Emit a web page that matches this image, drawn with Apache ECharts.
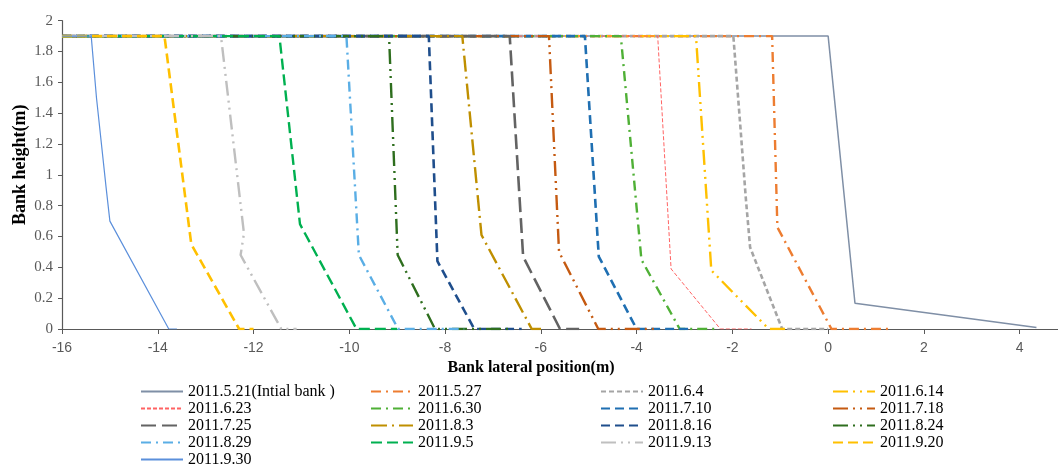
<!DOCTYPE html>
<html>
<head>
<meta charset="utf-8">
<script src="https://cdn.jsdelivr.net/npm/echarts@6/dist/echarts.min.js"></script>
<style>html,body{margin:0;padding:0;background:#fff;}#c{width:1058px;height:467px;}</style>
</head>
<body>
<div id="c"></div>
<script>
// ---- data ----
var seriesNames = ['2011.5.21(Intial bank )','2011.5.27','2011.6.4','2011.6.14','2011.6.23','2011.6.30','2011.7.10','2011.7.18','2011.7.25','2011.8.3','2011.8.16','2011.8.24','2011.8.29','2011.9.5','2011.9.13','2011.9.20','2011.9.30'];
var xTicks = [-16,-14,-12,-10,-8,-6,-4,-2,0,2,4];
var yTicks = [0,0.2,0.4,0.6,0.8,1,1.2,1.4,1.6,1.8,2];
var d0521 = [[-16,1.9],[0,1.9],[0.56,0.167],[4.35,0.01]];
var d0527 = [[-16,1.9],[-1.17,1.9],[-1.06,0.66],[0.07,0],[1.35,0]];
var d0604 = [[-16,1.9],[-1.98,1.9],[-1.83,1.3],[-1.72,0.85],[-1.63,0.53],[-0.96,0],[0,0]];
var d0614 = [[-16,1.9],[-2.76,1.9],[-2.44,0.38],[-1.24,0],[-0.9,0]];
var d0623 = [[-16,1.9],[-3.56,1.9],[-3.28,0.39],[-2.25,0],[-1.6,0]];
var d0630 = [[-16,1.9],[-4.33,1.9],[-3.9,0.45],[-3.1,0],[-2.3,0]];
var d0710 = [[-16,1.9],[-5.08,1.9],[-4.79,0.47],[-4.0,0],[-2.9,0]];
var d0718 = [[-16,1.9],[-5.83,1.9],[-5.62,0.5],[-4.8,0],[-3.6,0]];
var d0725 = [[-16,1.9],[-6.65,1.9],[-6.37,0.47],[-5.6,0],[-5.2,0]];
var d0803 = [[-16,1.9],[-7.64,1.9],[-7.24,0.61],[-6.19,0],[-5.9,0]];
var d0816 = [[-16,1.9],[-8.34,1.9],[-8.16,0.44],[-7.39,0],[-6.4,0]];
var d0824 = [[-16,1.9],[-9.17,1.9],[-8.99,0.48],[-8.21,0],[-6.6,0]];
var d0829 = [[-16,1.9],[-10.06,1.9],[-9.8,0.48],[-8.98,0],[-7.6,0]];
var d0905 = [[-16,1.9],[-11.46,1.9],[-11.03,0.68],[-9.85,0],[-9.0,0]];
var d0913 = [[-16,1.9],[-12.68,1.9],[-12.2,0.62],[-12.27,0.48],[-11.42,0],[-11.1,0]];
var d0920 = [[-16,1.9],[-13.86,1.9],[-13.3,0.55],[-12.3,0],[-12.0,0]];
var d0930 = [[-16,1.9],[-15.39,1.9],[-15.28,1.5],[-15.08,0.92],[-15.0,0.7],[-13.77,0],[-13.6,0]];
var seriesData = [d0521,d0527,d0604,d0614,d0623,d0630,d0710,d0718,d0725,d0803,d0816,d0824,d0829,d0905,d0913,d0920,d0930];

// ---- styles ----
var styles = [
  {color:'#7F8FA6', width:1.5, type:'solid'},
  {color:'#ED7D31', width:2.4, type:[10,5,2,5]},
  {color:'#A5A5A5', width:2.6, type:[5,3]},
  {color:'#FFC000', width:2.4, type:[15,5,2,5,2,5]},
  {color:'#FF6363', width:1, type:[4,2]},
  {color:'#4FB036', width:2.4, type:[10,5,2,5]},
  {color:'#1F6FB2', width:2.6, type:[9,5]},
  {color:'#C55A11', width:2.4, type:[15,5,2,5,2,5]},
  {color:'#636363', width:2.6, type:[15,6]},
  {color:'#BF8F00', width:2.4, type:[16,5,2,5]},
  {color:'#1F4E8C', width:2.6, type:[9,5]},
  {color:'#2E6E1E', width:2.4, type:[15,5,2,5,2,5]},
  {color:'#5AAEE5', width:2.4, type:[10,5,2,5]},
  {color:'#00B050', width:2.4, type:[11,5]},
  {color:'#BFBFBF', width:2.4, type:[15,5,2,5,2,5]},
  {color:'#FFC000', width:2.6, type:[10,5]},
  {color:'#5B8FDB', width:1.2, type:'solid'}
];

var series = seriesNames.map(function(n,i){
  return {
    name:n, type:'line', data:seriesData[i], symbol:'none', showSymbol:false,
    lineStyle:{color:styles[i].color, width:styles[i].width, type:styles[i].type},
    itemStyle:{color:styles[i].color},
    emphasis:{disabled:true}, animation:false
  };
});

var cols = [[0,4,8,12,16],[1,5,9,13],[2,6,10,14],[3,7,11,15]];
var colLeft = [140,370,600,832];
var legends = cols.map(function(c,k){
  return {
    orient:'vertical', left:colLeft[k], top:383, height:100, itemWidth:42, itemHeight:14, itemGap:0,
    padding:0, selectedMode:false,
    itemStyle:{opacity:0},
    data:c.map(function(i){return seriesNames[i];}),
    textStyle:{fontFamily:'Liberation Serif', fontSize:16, color:'#000', lineHeight:17, padding:[0,0,0,0]}
  };
});

var chart = echarts.init(document.getElementById('c'), null, {renderer:'canvas'});
chart.setOption({
  animation:false,
  backgroundColor:'#fff',
  grid:{left:62, right:0, top:20.7, bottom:138, containLabel:false, outerBoundsMode:'none'},
  legend:legends,
  xAxis:{
    type:'value', min:xTicks[0], max:4.8, interval:2,
    name:'Bank lateral position(m)', nameLocation:'middle', nameGap:31, nameMoveOverlap:false,
    nameTextStyle:{fontFamily:'Liberation Serif', fontWeight:'bold', fontSize:16, color:'#000', padding:[0,58,0,0]},
    axisLine:{show:true, onZero:false, lineStyle:{color:'#595959', width:1.2}},
    axisTick:{show:true, inside:false, length:5, lineStyle:{color:'#595959'}},
    splitLine:{show:false},
    axisLabel:{fontFamily:'Liberation Sans', fontSize:14, color:'#595959', margin:12, showMaxLabel:false}
  },
  yAxis:{
    type:'value', min:yTicks[0], max:yTicks[yTicks.length-1], interval:0.2,
    name:'Bank height(m)', nameLocation:'middle', nameGap:33, nameMoveOverlap:false,
    nameTextStyle:{fontFamily:'Liberation Serif', fontWeight:'bold', fontSize:18, color:'#000', padding:[0,0,0,20]},
    axisLine:{show:true, onZero:false, lineStyle:{color:'#595959', width:1.2}},
    axisTick:{show:true, length:4, lineStyle:{color:'#595959'}},
    splitLine:{show:false},
    axisLabel:{fontFamily:'Liberation Serif', fontSize:15, color:'#595959', margin:9}
  },
  series:series
});
</script>
</body>
</html>
